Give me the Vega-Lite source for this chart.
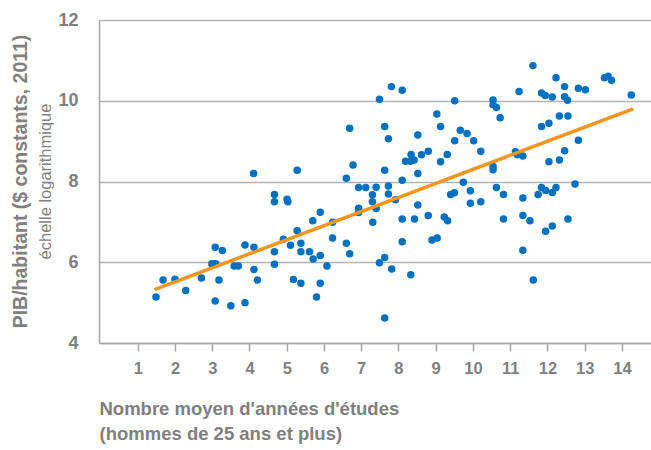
{
 "$schema": "https://vega.github.io/schema/vega-lite/v6.json",
 "width": 552, "height": 323,
 "autosize": {"type": "none"},
 "padding": {"left": 99, "top": 20, "right": 0, "bottom": 107},
 "background": "white",
 "config": {"view": {"stroke": null}, "font": "Liberation Sans"},
 "title": {"text": "PIB/habitant ($ constants, 2011)", "subtitle": "échelle logarithmique", "orient": "left", "anchor": "middle", "font": "Liberation Sans", "fontSize": 19.5, "fontWeight": "bold", "color": "#808080", "subtitleFont": "Liberation Sans", "subtitleFontSize": 16.5, "subtitleColor": "#808080", "subtitlePadding": 7, "offset": 2},
 "layer": [
  {
   "data": {"values": [
    {"educ":1.49,"pib":5.14},{"educ":1.68,"pib":5.56},{"educ":2.00,"pib":5.58},{"educ":2.29,"pib":5.30},{"educ":2.71,"pib":5.61},
    {"educ":3.08,"pib":6.37},{"educ":3.27,"pib":6.29},{"educ":2.99,"pib":5.96},{"educ":3.09,"pib":5.96},{"educ":3.18,"pib":5.56},
    {"educ":3.08,"pib":5.04},{"educ":3.50,"pib":4.92},{"educ":3.88,"pib":5.00},{"educ":3.59,"pib":5.91},{"educ":3.70,"pib":5.91},
    {"educ":3.88,"pib":6.43},{"educ":4.12,"pib":6.37},{"educ":4.12,"pib":5.82},{"educ":4.21,"pib":5.56},{"educ":4.11,"pib":8.20},
    {"educ":4.67,"pib":7.68},{"educ":4.67,"pib":7.50},{"educ":5.01,"pib":7.56},{"educ":5.03,"pib":7.50},{"educ":5.28,"pib":8.28},
    {"educ":4.67,"pib":6.26},{"educ":4.67,"pib":5.95},{"educ":4.91,"pib":6.57},{"educ":5.10,"pib":6.42},{"educ":5.28,"pib":6.78},
    {"educ":5.38,"pib":6.47},{"educ":5.38,"pib":6.26},{"educ":5.18,"pib":5.57},{"educ":5.38,"pib":5.48},{"educ":5.70,"pib":7.03},
    {"educ":5.90,"pib":7.24},{"educ":5.61,"pib":6.26},{"educ":5.71,"pib":6.08},{"educ":5.90,"pib":6.17},{"educ":6.08,"pib":5.91},
    {"educ":5.90,"pib":5.48},{"educ":5.80,"pib":5.14},{"educ":6.23,"pib":6.99},{"educ":6.23,"pib":6.60},{"educ":6.60,"pib":6.47},
    {"educ":6.69,"pib":6.21},{"educ":6.60,"pib":8.08},{"educ":6.69,"pib":9.32},{"educ":6.78,"pib":8.41},{"educ":6.93,"pib":7.85},
    {"educ":7.12,"pib":7.85},{"educ":7.40,"pib":7.86},{"educ":6.93,"pib":7.34},{"educ":6.93,"pib":7.23},{"educ":7.30,"pib":7.67},
    {"educ":7.30,"pib":7.50},{"educ":7.40,"pib":7.33},{"educ":7.31,"pib":6.99},{"educ":7.73,"pib":7.89},{"educ":7.73,"pib":7.69},
    {"educ":7.92,"pib":7.55},{"educ":7.49,"pib":10.04},{"educ":7.81,"pib":10.35},{"educ":8.10,"pib":10.26},{"educ":7.63,"pib":9.36},
    {"educ":7.73,"pib":9.06},{"educ":7.63,"pib":8.28},{"educ":8.10,"pib":8.03},{"educ":8.19,"pib":8.50},{"educ":8.32,"pib":8.50},
    {"educ":8.42,"pib":8.53},{"educ":8.34,"pib":8.67},{"educ":8.52,"pib":9.15},{"educ":8.52,"pib":8.20},{"educ":8.62,"pib":8.66},
    {"educ":8.80,"pib":8.75},{"educ":9.03,"pib":9.67},{"educ":9.13,"pib":9.36},{"educ":9.13,"pib":8.49},{"educ":9.31,"pib":8.67},
    {"educ":9.51,"pib":10.00},{"educ":9.51,"pib":9.01},{"educ":9.66,"pib":9.27},{"educ":9.84,"pib":9.19},{"educ":10.02,"pib":9.01},
    {"educ":10.21,"pib":8.75},{"educ":9.74,"pib":7.98},{"educ":9.93,"pib":7.77},{"educ":9.40,"pib":7.68},{"educ":9.50,"pib":7.72},
    {"educ":8.52,"pib":7.42},{"educ":8.10,"pib":7.07},{"educ":8.43,"pib":7.07},{"educ":8.10,"pib":6.51},{"educ":8.80,"pib":7.16},
    {"educ":8.90,"pib":6.55},{"educ":9.04,"pib":6.60},{"educ":9.23,"pib":7.12},{"educ":9.32,"pib":7.03},{"educ":9.93,"pib":7.46},
    {"educ":10.21,"pib":7.50},{"educ":7.49,"pib":5.99},{"educ":7.63,"pib":6.12},{"educ":7.82,"pib":5.83},{"educ":8.33,"pib":5.69},
    {"educ":7.63,"pib":4.62},{"educ":10.54,"pib":10.02},{"educ":10.54,"pib":9.90},{"educ":10.63,"pib":9.83},{"educ":10.73,"pib":9.58},
    {"educ":10.54,"pib":8.37},{"educ":11.14,"pib":8.74},{"educ":11.19,"pib":8.66},{"educ":11.34,"pib":8.63},{"educ":11.24,"pib":10.23},
    {"educ":11.61,"pib":10.87},{"educ":11.84,"pib":10.19},{"educ":11.94,"pib":10.13},{"educ":12.13,"pib":10.09},{"educ":11.84,"pib":9.36},
    {"educ":12.04,"pib":9.44},{"educ":12.04,"pib":8.49},{"educ":12.23,"pib":10.57},{"educ":12.32,"pib":9.62},{"educ":12.32,"pib":8.53},
    {"educ":12.46,"pib":10.35},{"educ":12.46,"pib":10.10},{"educ":12.54,"pib":10.01},{"educ":12.55,"pib":9.62},{"educ":12.46,"pib":8.76},
    {"educ":12.83,"pib":10.31},{"educ":13.02,"pib":10.27},{"educ":12.83,"pib":9.02},{"educ":13.53,"pib":10.57},{"educ":13.63,"pib":10.61},
    {"educ":13.72,"pib":10.51},{"educ":14.25,"pib":10.14},{"educ":10.54,"pib":8.29},{"educ":10.63,"pib":7.85},{"educ":10.82,"pib":7.68},
    {"educ":10.82,"pib":7.07},{"educ":11.34,"pib":7.59},{"educ":11.34,"pib":7.16},{"educ":11.53,"pib":7.03},{"educ":11.34,"pib":6.30},
    {"educ":11.62,"pib":5.56},{"educ":11.75,"pib":7.68},{"educ":11.84,"pib":7.85},{"educ":11.95,"pib":7.78},{"educ":12.13,"pib":7.73},
    {"educ":12.23,"pib":7.85},{"educ":11.95,"pib":6.77},{"educ":12.13,"pib":6.90},{"educ":12.55,"pib":7.07},{"educ":12.74,"pib":7.94}
   ]},
   "mark": {"type": "circle", "size": 56, "opacity": 1, "color": "#0070C0"},
   "encoding": {
    "x": {"field": "educ", "type": "quantitative",
      "scale": {"domain": [-0.04, 14.78], "nice": false, "zero": false},
      "axis": {"values": [1,2,3,4,5,6,7,8,9,10,11,12,13,14], "grid": false,
        "domainColor": "#a6a6a6", "domainWidth": 1.5, "tickColor": "#a6a6a6", "tickWidth": 1.5, "tickSize": 8,
        "labelFont": "Liberation Sans", "labelFontSize": 16.5, "labelFontWeight": "bold", "labelColor": "#808080", "labelPadding": 9,
        "title": ["Nombre moyen d'années d'études", "(hommes de 25 ans et plus)"],
        "titleFont": "Liberation Sans", "titleFontSize": 18.5, "titleFontWeight": "bold", "titleColor": "#808080",
        "titleAnchor": "start", "titleAlign": "left", "titlePadding": 23, "titleLineHeight": 25}},
    "y": {"field": "pib", "type": "quantitative",
      "scale": {"domain": [4, 12], "nice": false, "zero": false},
      "axis": {"values": [4,6,8,10,12], "grid": true, "gridColor": "#b3b3b3", "gridWidth": 1.5,
        "ticks": false, "domainColor": "#a6a6a6", "domainWidth": 1.5,
        "labelFont": "Liberation Sans", "labelFontSize": 18, "labelFontWeight": "bold", "labelColor": "#808080", "labelPadding": 21,
        "title": null}}
   }
  },
  {
   "data": {"values": [{"educ": 1.45, "pib": 5.32}, {"educ": 14.3, "pib": 9.8}]},
   "mark": {"type": "line", "color": "#F7941D", "strokeWidth": 3.5},
   "encoding": {
    "x": {"field": "educ", "type": "quantitative"},
    "y": {"field": "pib", "type": "quantitative"}
   }
  }
 ]
}
